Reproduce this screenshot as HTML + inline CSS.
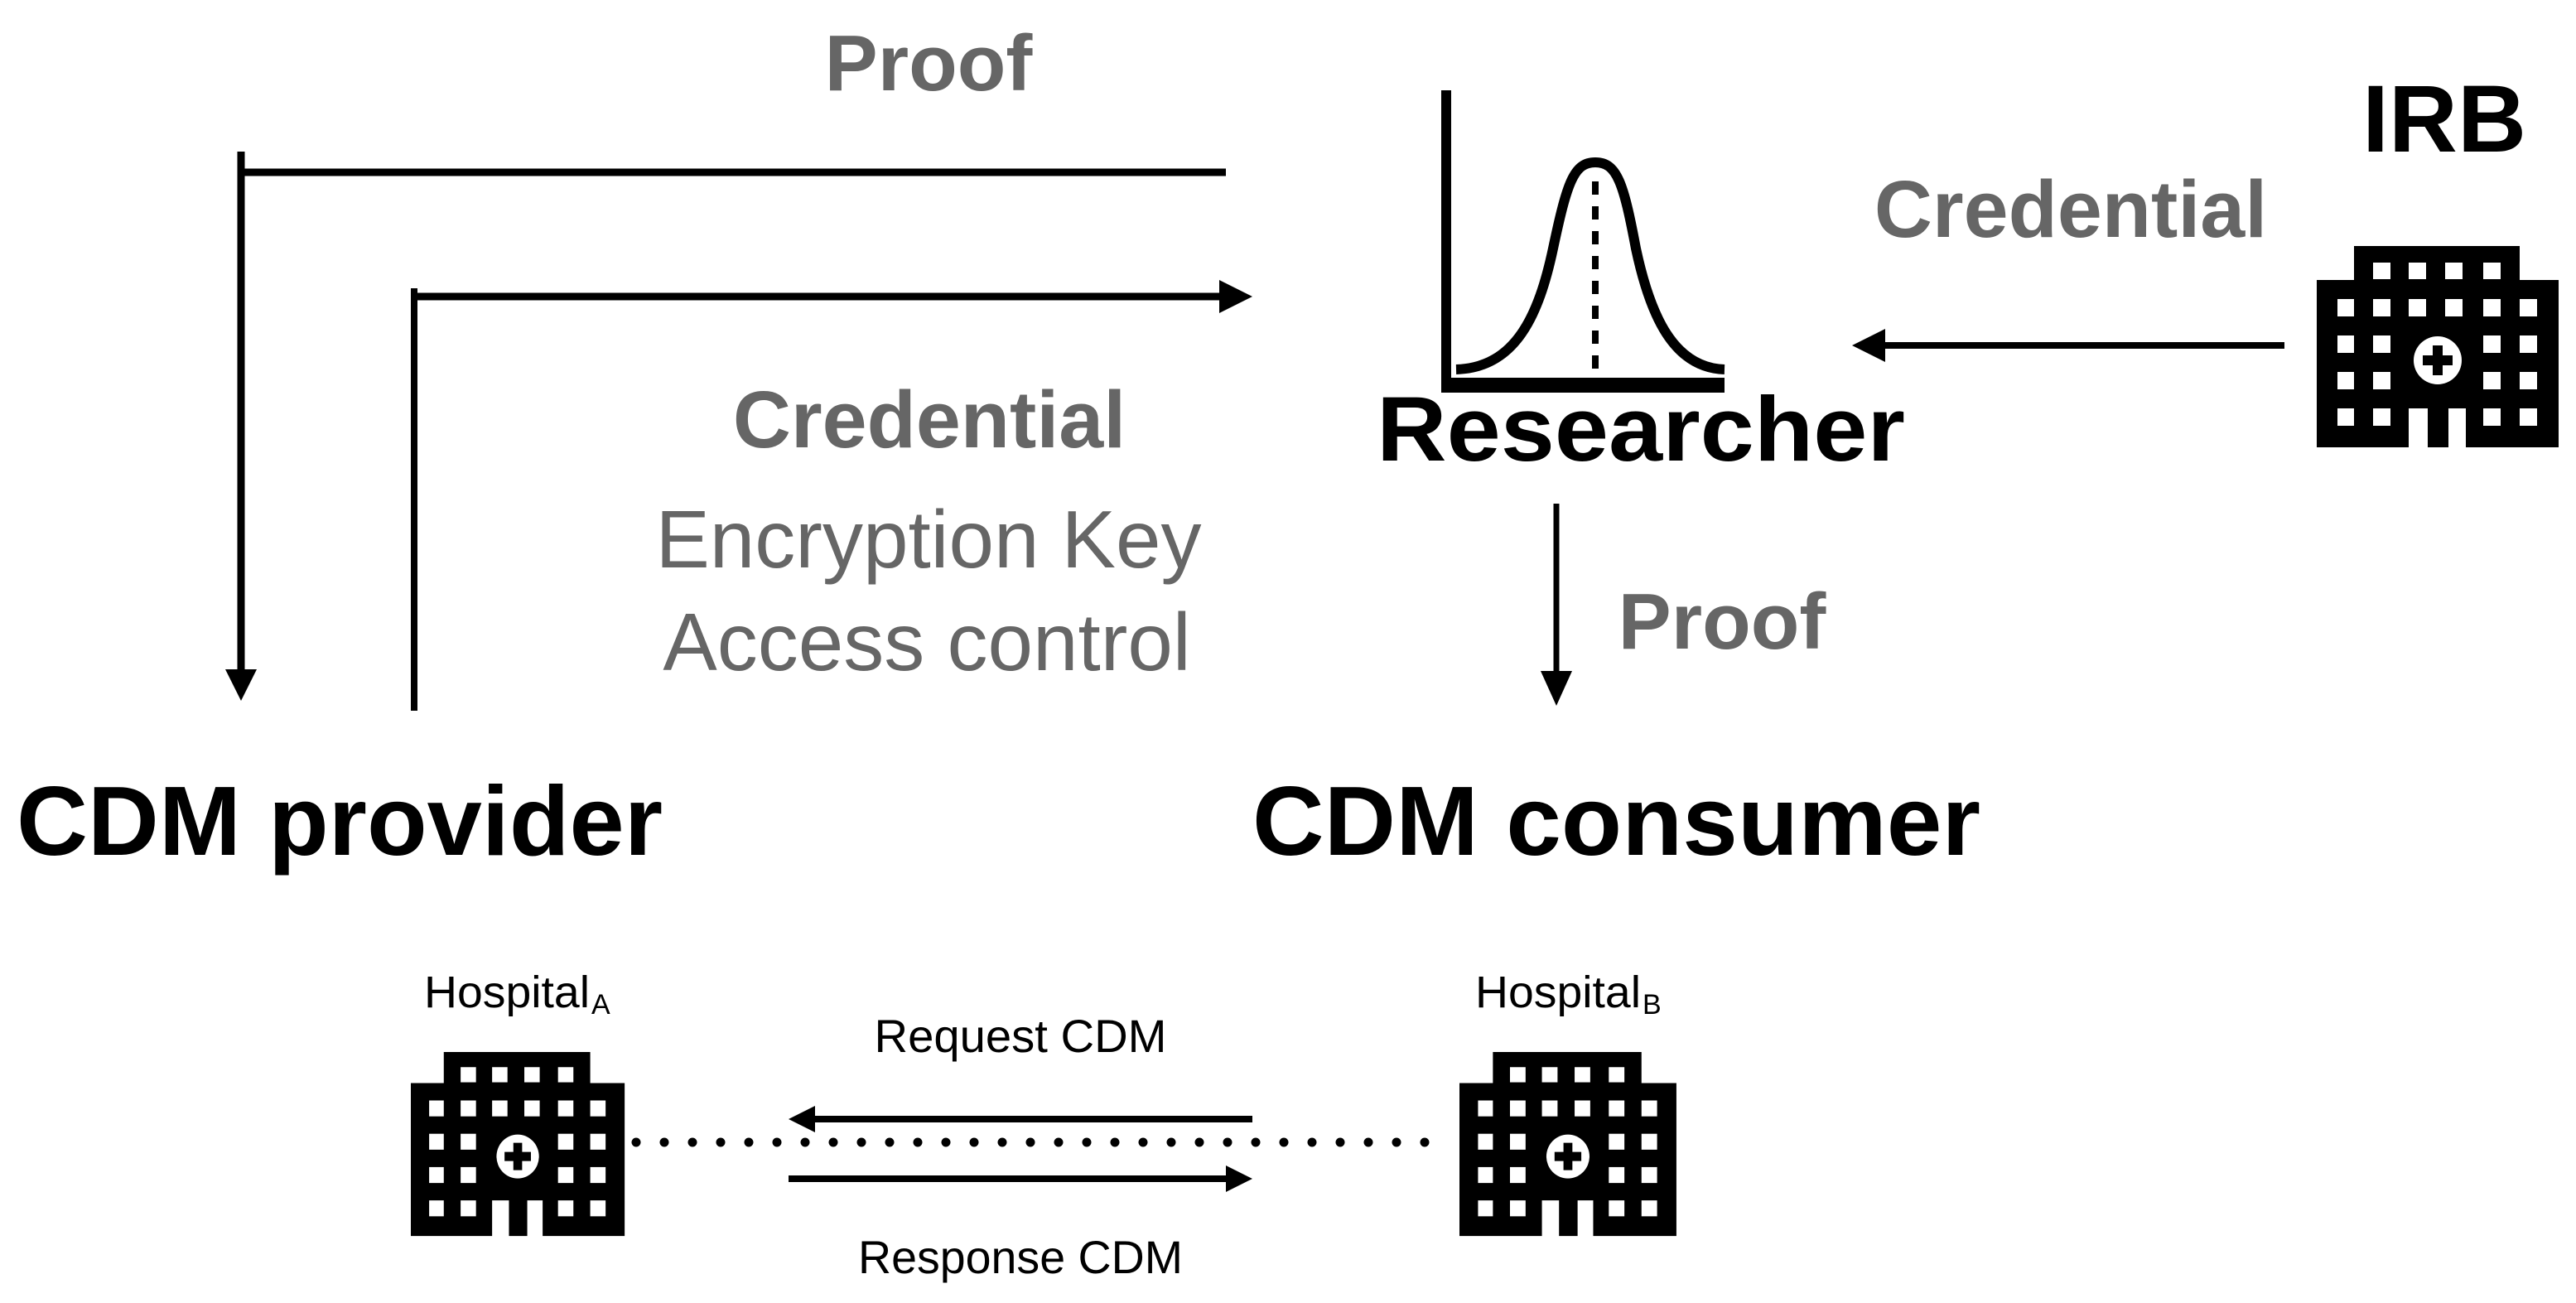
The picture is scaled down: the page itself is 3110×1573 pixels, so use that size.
<!DOCTYPE html>
<html><head><meta charset="utf-8"><style>
html,body{margin:0;padding:0;background:#fff;}
svg{display:block;}
text{font-family:"Liberation Sans",Arial,sans-serif;}
</style></head><body>
<svg width="3110" height="1573" viewBox="0 0 3110 1573" xmlns="http://www.w3.org/2000/svg">
<defs>
<g id="hosp">
  <path d="M45 0H245V41H292V243H180V196H159V243H134V196H111V243H0V41H45Z" fill="#000"/>
  <g fill="#fff">
    <rect x="68" y="20" width="21" height="20"/><rect x="111" y="20" width="21" height="20"/><rect x="155" y="20" width="21" height="20"/><rect x="201" y="20" width="21" height="20"/>
    <rect x="25" y="64" width="20" height="21"/><rect x="68" y="64" width="21" height="21"/><rect x="111" y="64" width="21" height="21"/><rect x="155" y="64" width="21" height="21"/><rect x="201" y="64" width="21" height="21"/><rect x="245" y="64" width="21" height="21"/>
    <rect x="25" y="108" width="20" height="21"/><rect x="68" y="108" width="21" height="21"/><rect x="201" y="108" width="21" height="21"/><rect x="245" y="108" width="21" height="21"/>
    <rect x="25" y="152" width="20" height="21"/><rect x="68" y="152" width="21" height="21"/><rect x="201" y="152" width="21" height="21"/><rect x="245" y="152" width="21" height="21"/>
    <rect x="25" y="196" width="20" height="21"/><rect x="68" y="196" width="21" height="21"/><rect x="201" y="196" width="21" height="21"/><rect x="245" y="196" width="21" height="21"/>
    <circle cx="146" cy="138" r="29"/>
  </g>
  <path d="M140 120H152V132H164V144H152V156H140V144H128V132H140Z" fill="#000"/>
</g>
</defs>

<!-- Proof path to provider -->
<path d="M1480 208H291" stroke="#000" stroke-width="9" fill="none"/>
<path d="M291 183V812" stroke="#000" stroke-width="9" fill="none"/>
<path d="M272 808L310 808L291 846Z" fill="#000"/>

<!-- Credential path from provider -->
<path d="M500 858V348" stroke="#000" stroke-width="8" fill="none"/>
<path d="M496 358H1476" stroke="#000" stroke-width="9" fill="none"/>
<path d="M1472 338L1512 358L1472 378Z" fill="#000"/>

<!-- IRB arrow -->
<path d="M2758 417H2272" stroke="#000" stroke-width="8" fill="none"/>
<path d="M2276 397L2236 417L2276 437Z" fill="#000"/>

<!-- Researcher down arrow -->
<path d="M1879 608V814" stroke="#000" stroke-width="7" fill="none"/>
<path d="M1860 810L1898 810L1879 852Z" fill="#000"/>

<!-- Chart -->
<path d="M1746 109V465" stroke="#000" stroke-width="12" fill="none"/>
<path d="M1740 465H2082" stroke="#000" stroke-width="18" fill="none"/>
<path d="M1758 446C1830 444 1858 380 1875 300C1892 220 1900 196 1926 196C1952 196 1960 220 1975 300C1992 380 2020 444 2082 446" stroke="#000" stroke-width="12" fill="none"/>
<path d="M1926 219V457" stroke="#000" stroke-width="8" stroke-dasharray="16,14" fill="none"/>

<!-- Hospitals -->
<use href="#hosp" transform="translate(2797,297)"/>
<use href="#hosp" transform="translate(496,1270) scale(0.884,0.914)"/>
<use href="#hosp" transform="translate(1762,1270) scale(0.897,0.914)"/>

<!-- dotted line -->
<path d="M768 1379H1746" stroke="#000" stroke-width="11" stroke-linecap="round" stroke-dasharray="0,34" fill="none"/>
<!-- request / response arrows -->
<path d="M1512 1351H980" stroke="#000" stroke-width="8" fill="none"/>
<path d="M984 1335L952 1351L984 1367Z" fill="#000"/>
<path d="M952 1423H1484" stroke="#000" stroke-width="8" fill="none"/>
<path d="M1480 1407L1512 1423L1480 1439Z" fill="#000"/>

<!-- Texts -->
<text x="1121" y="109" font-size="96" font-weight="bold" fill="#666" text-anchor="middle">Proof</text>
<text x="2951" y="183" font-size="115" font-weight="bold" fill="#000" text-anchor="middle">IRB</text>
<text x="2500" y="286" font-size="97" font-weight="bold" fill="#666" text-anchor="middle">Credential</text>
<text x="1981" y="556" font-size="110" font-weight="bold" fill="#000" text-anchor="middle" textLength="638" lengthAdjust="spacingAndGlyphs">Researcher</text>
<text x="1122" y="540" font-size="97" font-weight="bold" fill="#666" text-anchor="middle">Credential</text>
<text x="1121" y="685" font-size="98" fill="#666" text-anchor="middle">Encryption Key</text>
<text x="1119" y="809" font-size="98" fill="#666" text-anchor="middle">Access control</text>
<text x="2079" y="783" font-size="96" font-weight="bold" fill="#666" text-anchor="middle">Proof</text>
<text x="20" y="1032" font-size="119" font-weight="bold" fill="#000" textLength="780" lengthAdjust="spacingAndGlyphs">CDM provider</text>
<text x="1512" y="1032" font-size="119" font-weight="bold" fill="#000" textLength="879" lengthAdjust="spacingAndGlyphs">CDM consumer</text>
<text x="512" y="1216" font-size="54" fill="#000" textLength="200" lengthAdjust="spacingAndGlyphs">Hospital</text>
<text x="714" y="1224" font-size="34" fill="#000">A</text>
<text x="1781" y="1216" font-size="54" fill="#000" textLength="200" lengthAdjust="spacingAndGlyphs">Hospital</text>
<text x="1983" y="1224" font-size="34" fill="#000">B</text>
<text x="1232" y="1270" font-size="56" fill="#000" text-anchor="middle" textLength="353" lengthAdjust="spacingAndGlyphs">Request CDM</text>
<text x="1232" y="1537" font-size="56" fill="#000" text-anchor="middle" textLength="392" lengthAdjust="spacingAndGlyphs">Response CDM</text>
</svg>
</body></html>
